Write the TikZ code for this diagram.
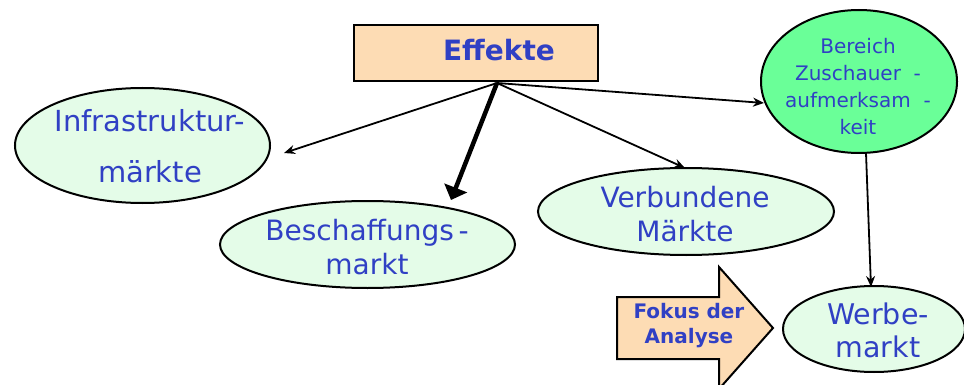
\documentclass[tikz,border=0pt]{standalone}
\usepackage{fontspec}
\setmainfont{DejaVu Sans}
\usetikzlibrary{arrows.meta,shapes.geometric}
\definecolor{peach}{HTML}{FDDCB4}
\definecolor{lgreen}{HTML}{E4FCE8}
\definecolor{bgreen}{HTML}{6AFF98}
\definecolor{tblue}{HTML}{3040C4}
\tikzset{
  elli/.style={draw=black, line width=2pt, fill=lgreen, ellipse, inner sep=0pt},
  txt/.style={text=tblue, align=center, inner sep=0pt},
  conn/.style={draw=black, line width=1.8pt, -{Stealth[length=11pt,width=9pt]}},
  boldconn/.style={draw=black, line width=4.5pt, -{Triangle[length=13pt,width=24pt]}},
}
\begin{document}
\begin{tikzpicture}[x=1pt,y=-1pt]
\path[use as bounding box] (0,0) rectangle (964,385);
\clip (0,0) rectangle (964,385);
% Effekte box
\node[draw=black, line width=2.5pt, fill=peach, minimum width=244pt, minimum height=56pt, inner sep=0pt] (eff) at (476,53) {};
\node[txt, font=\bfseries\fontsize{28}{32}\selectfont] (efft) at (499,50.5) {Effekte};
% ellipses
\node[elli, minimum width=255pt, minimum height=115pt] (infra) at (142.5,145.5) {};
\node[txt, font=\fontsize{29}{51}\selectfont] (infrat) at (150,146.5) {Infrastruktur-\\märkte};
\node[elli, minimum width=295pt, minimum height=87pt] (besch) at (367.5,244.5) {};
\node[txt, font=\fontsize{28}{34}\selectfont] (bescht) at (367,247.5) {Beschaffungs\,-\\markt};
\node[elli, minimum width=296pt, minimum height=87pt] (verb) at (686,211.5) {};
\node[txt, font=\fontsize{28}{34}\selectfont] (verbt) at (685,214.5) {Verbundene\\Märkte};
\node[elli, fill=bgreen, minimum width=196pt, minimum height=143pt] (ber) at (859,81.5) {};
\node[txt, font=\fontsize{20}{27}\selectfont] (bert) at (858,87) {Bereich\\Zuschauer\ \ -\\aufmerksam\ \ -\\keit};
\node[elli, minimum width=182pt, minimum height=86pt] (werbe) at (874,329) {};
\node[txt, font=\fontsize{28.5}{33}\selectfont] (werbet) at (878,330.5) {Werbe-\\markt};
% Fokus arrow
\draw[line width=2pt, fill=peach, line join=miter]
  (617,297) -- (719,297) -- (719,267) -- (773,328) -- (719,389) -- (719,359) -- (617,359) -- cycle;
\node[txt, font=\bfseries\fontsize{20}{25}\selectfont] (fokus) at (689,325.5) {Fokus der\\Analyse};
% connectors
\coordinate (src) at (497,83);
\coordinate (toinfra) at (284,153);
\coordinate (tobesch) at (451,200);
\coordinate (toverb) at (685,168);
\coordinate (tober) at (764,103);
\coordinate (berbot) at (866,153);
\coordinate (towerbe) at (871,287);
\draw[conn] (src) -- (toinfra);
\draw[boldconn] (src) -- (tobesch);
\draw[conn] (src) -- (toverb);
\draw[conn] (src) -- (tober);
\draw[conn] (berbot) -- (towerbe);
\end{tikzpicture}
\end{document}
